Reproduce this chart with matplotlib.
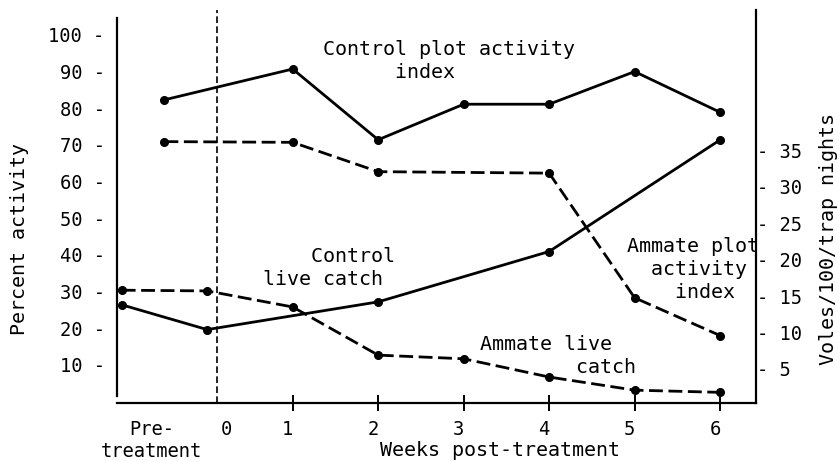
import matplotlib.pyplot as plt
from matplotlib.transforms import ScaledTranslation

plt.rcParams['font.family'] = ['DejaVu Sans Mono']
FS = 13.5     # tick labels
FT = 14.4     # axis labels and notes

# activity indices (percent, left axis)
control_index_weeks = [-0.5, 1, 2, 3, 4, 5, 6]
control_index = [82.3, 90.7, 71.4, 81.1, 81.1, 90.0, 78.9]
ammate_index_weeks = [-0.5, 1, 2, 4, 5, 6]
ammate_index = [70.9, 70.7, 62.7, 62.3, 28.3, 18.0]

# live catch (voles/100/trap nights, right axis)
control_catch_weeks = [-1, 0, 2, 4, 6]
control_catch = [13.8, 10.4, 14.2, 21.1, 36.4]
ammate_catch_weeks = [-1, 0, 1, 2, 3, 4, 5, 6]
ammate_catch = [15.8, 15.7, 13.5, 6.9, 6.4, 3.9, 2.1, 1.8]

left_ticks = [10, 20, 30, 40, 50, 60, 70, 80, 90, 100]
right_ticks = [5, 10, 15, 20, 25, 30, 35]
week_ticks = [1, 2, 3, 4, 5, 6]

W, H = 839, 462
fig = plt.figure(figsize=(W / 100, H / 100), dpi=100)
ax = fig.add_axes([117 / W, 1 - 403 / H, (756 - 117) / W, (403 - 10) / H])
ax2 = ax.twinx()

line = dict(color='black', lw=2, marker='o', ms=5.5)
ax.plot(control_index_weeks, control_index, **line)
ax.plot(ammate_index_weeks, ammate_index, dashes=(5, 2), **line)
ax2.plot(control_catch_weeks, control_catch, **line)
ax2.plot(ammate_catch_weeks, ammate_catch, dashes=(5, 2), **line)

ax.axvline(0.12, color='black', lw=1.2, dashes=(4, 2))

ax.set_xlim(-1.055, 6.42)
ax.set_ylim(-0.4, 106.8)
ax2.set_ylim(0.34, 54.2)

# spines
ax.spines['top'].set_visible(False)
ax.spines['right'].set_visible(False)
ax.spines['left'].set_bounds(1.5, 104.6)
for s in ['top', 'left', 'bottom']:
    ax2.spines[s].set_visible(False)
for sp in [ax.spines['left'], ax.spines['bottom'], ax2.spines['right']]:
    sp.set_linewidth(1.6)

# left ticks as "100 -"
ax.set_yticks(left_ticks)
ax.set_yticklabels([f'{v} -' for v in left_ticks], fontsize=FS)
ax.tick_params(axis='y', length=0, pad=9)

# right ticks as "- 35"
ax2.set_yticks(right_ticks)
ax2.set_yticklabels([f'- {v}' for v in right_ticks], fontsize=FS)
ax2.tick_params(axis='y', length=0, pad=1)

# x ticks
ax.set_xticks([-0.65, 0.22] + week_ticks)
ax.set_xticklabels(['Pre-\ntreatment', '0'] + [str(w) for w in week_ticks], fontsize=FS)
ax.tick_params(axis='x', direction='inout', length=12, width=1.4, pad=6)
for t in ax.xaxis.get_major_ticks()[:2]:
    t.tick1line.set_visible(False)
shift = ScaledTranslation(-5 / 100, 0, fig.dpi_scale_trans)
for lab in ax.get_xticklabels()[2:]:
    lab.set_transform(lab.get_transform() + shift)

fig.text(500 / W, 1 - 450 / H, 'Weeks post-treatment', fontsize=FT, ha='center', va='center')
fig.text(20 / W, 1 - 239 / H, 'Percent activity', fontsize=FT, rotation=90, ha='center', va='center')
fig.text(828 / W, 1 - 239 / H, 'Voles/100/trap nights', fontsize=FT, rotation=90, ha='center', va='center')

# annotations
def note(x, y, s):
    fig.text(x / W, 1 - y / H, s, fontsize=FT, ha='left', va='top', linespacing=1.25)

note(323, 40, 'Control plot activity\n      index')
note(263, 247, '    Control\nlive catch')
note(480, 335, 'Ammate live\n        catch')
note(627, 237, 'Ammate plot\n  activity\n    index')

fig.savefig('out.png', dpi=100)
